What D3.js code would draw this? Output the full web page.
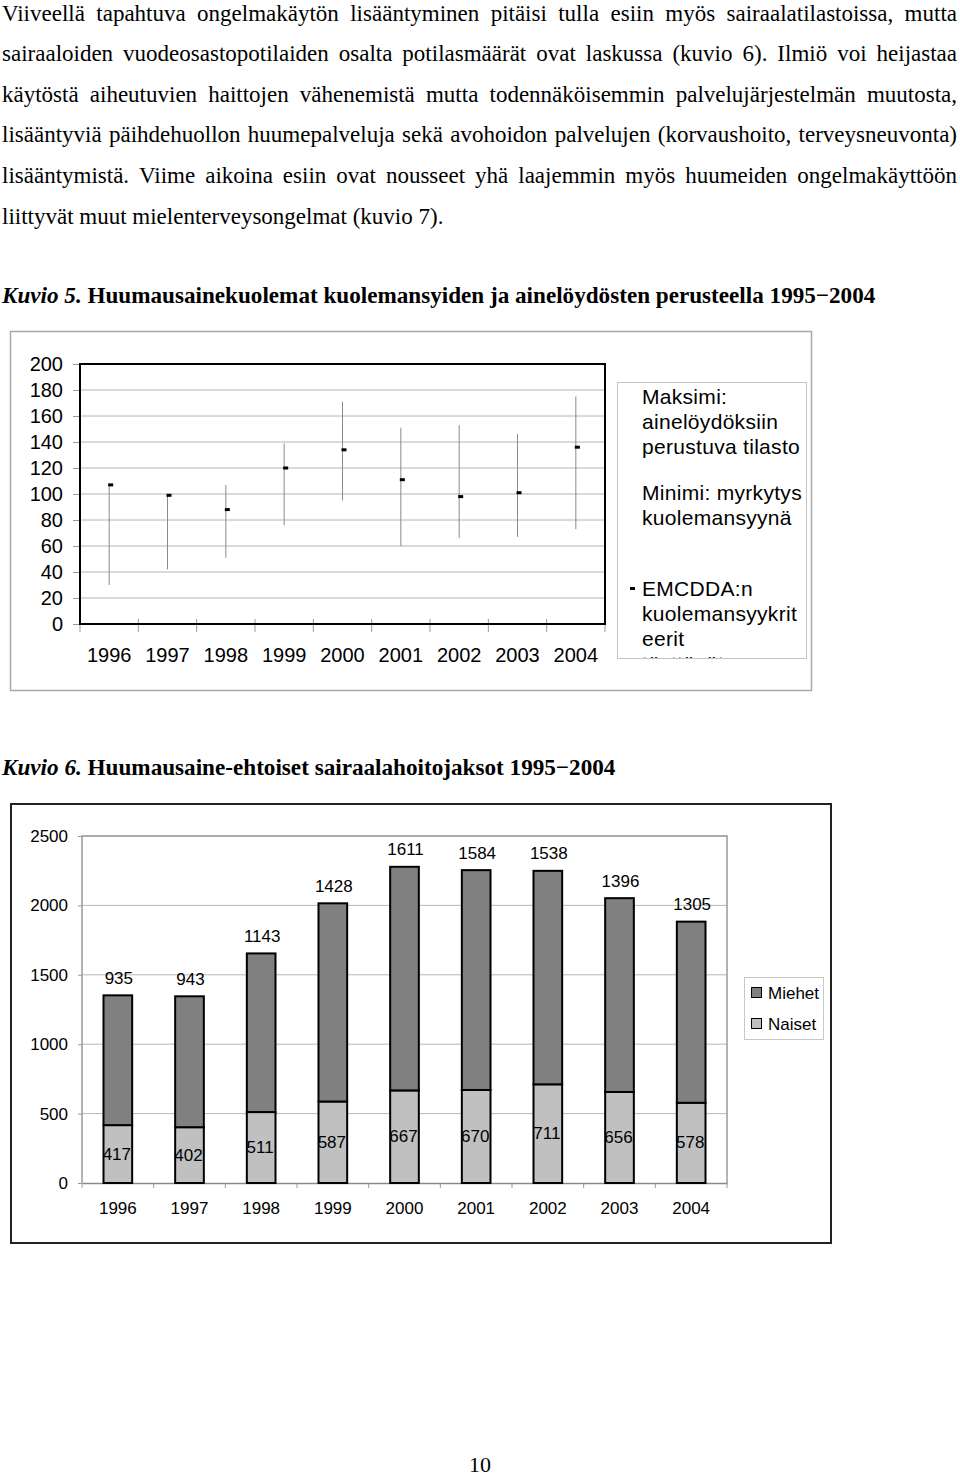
<!DOCTYPE html>
<html>
<head>
<meta charset="utf-8">
<script src="https://cdn.jsdelivr.net/npm/d3@7"></script>
<style>
  html, body { margin: 0; padding: 0; background: #fff; }
  svg { display: block; }
</style>
</head>
<body>
<svg id="page" width="960" height="1482"></svg>
<script>
// ---------------- DATA ----------------
const paragraphLines = [
  "Viiveellä tapahtuva ongelmakäytön lisääntyminen pitäisi tulla esiin myös sairaalatilastoissa, mutta",
  "sairaaloiden vuodeosastopotilaiden osalta potilasmäärät ovat laskussa (kuvio 6). Ilmiö voi heijastaa",
  "käytöstä aiheutuvien haittojen vähenemistä mutta todennäköisemmin palvelujärjestelmän muutosta,",
  "lisääntyviä päihdehuollon huumepalveluja sekä avohoidon palvelujen (korvaushoito, terveysneuvonta)",
  "lisääntymistä. Viime aikoina esiin ovat nousseet yhä laajemmin myös huumeiden ongelmakäyttöön",
  "liittyvät muut mielenterveysongelmat (kuvio 7)."
];
const caption1Lead = "Kuvio 5.";
const caption1Text = " Huumausainekuolemat kuolemansyiden ja ainelöydösten perusteella 1995−2004";
const caption2Lead = "Kuvio 6.";
const caption2Text = " Huumausaine-ehtoiset sairaalahoitojaksot 1995−2004";
const pageNumber = "10";

// Chart 1 (Kuvio 5)
const years = ["1996", "1997", "1998", "1999", "2000", "2001", "2002", "2003", "2004"];
const maxDeaths = [108, 99, 107, 139, 171, 151, 153, 146, 175];   // ainelöydöksiin perustuva tilasto
const minDeaths = [30, 42, 51, 76, 95, 60, 66, 67, 73];           // myrkytys kuolemansyynä
const emcddaDeaths = [107, 99, 88, 120, 134, 111, 98, 101, 136];  // EMCDDA:n kuolemansyykriteerit
const yTicks1 = [0, 20, 40, 60, 80, 100, 120, 140, 160, 180, 200];
const legend1Max = ["Maksimi:", "ainelöydöksiin", "perustuva tilasto"];
const legend1Min = ["Minimi: myrkytys", "kuolemansyynä"];
const legend1Emcdda = ["EMCDDA:n", "kuolemansyykrit", "eerit", "täyttävät"];

// Chart 2 (Kuvio 6)
const men = [935, 943, 1143, 1428, 1611, 1584, 1538, 1396, 1305];
const women = [417, 402, 511, 587, 667, 670, 711, 656, 578];
const yTicks2 = [0, 500, 1000, 1500, 2000, 2500];
const seriesNames = ["Miehet", "Naiset"];

// ---------------- DRAW ----------------
const SERIF = "Liberation Serif, Times New Roman, Times, serif";
const SANS = "Liberation Sans, Arial, Helvetica, sans-serif";
const svg = d3.select("#page");
svg.append("rect").attr("width", 960).attr("height", 1482).attr("fill", "#fff");

// Paragraph (justified by placing words)
const para = svg.append("g").attr("font-family", SERIF).attr("font-size", 23).attr("fill", "#000");
paragraphLines.forEach((line, i) => {
  const y = 20.5 + i * 40.6;
  const t = para.append("text").attr("y", y);
  if (i === paragraphLines.length - 1) {
    t.attr("x", 2).text(line);
    return;
  }
  const words = line.split(" ");
  const spans = words.map(w => t.append("tspan").attr("x", 0).text(w));
  const widths = spans.map(s => s.node().getComputedTextLength());
  const total = d3.sum(widths);
  const x0 = 2, x1 = 957;
  const gap = (x1 - x0 - total) / (words.length - 1);
  let x = x0;
  spans.forEach((s, k) => { s.attr("x", x); x += widths[k] + gap; });
});

function caption(y, lead, rest, width) {
  const t = svg.append("text").attr("font-family", SERIF)
    .attr("x", 2).attr("y", y).attr("font-size", 22).attr("font-weight", "bold").attr("fill", "#000");
  t.append("tspan").attr("font-style", "italic").text(lead);
  t.append("tspan").text(rest);
  const w = t.node().getComputedTextLength();
  t.attr("font-size", 22 * width / w);
}
caption(303, caption1Lead, caption1Text, 874);
caption(775, caption2Lead, caption2Text, 614);

svg.append("text").attr("font-family", SERIF)
  .attr("x", 480).attr("y", 1472).attr("text-anchor", "middle")
  .attr("font-size", 22).attr("fill", "#000").text(pageNumber);

// ---------------- CHART 1 ----------------
const c1 = svg.append("g").attr("font-family", SANS);
c1.append("rect").attr("x", 10.5).attr("y", 331.5).attr("width", 801).attr("height", 359)
  .attr("fill", "#fff").attr("stroke", "#a8a8a8").attr("stroke-width", 1.5);

const p1 = { left: 80, right: 605, top: 364, bottom: 624 };
const x1 = d3.scaleBand().domain(years).range([p1.left, p1.right]);
const y1 = d3.scaleLinear().domain([0, 200]).range([p1.bottom, p1.top]);

// gridlines
c1.append("g").selectAll("line").data(yTicks1.filter(d => d > 0 && d < 200)).join("line")
  .attr("x1", p1.left).attr("x2", p1.right)
  .attr("y1", d => y1(d)).attr("y2", d => y1(d))
  .attr("stroke", "#b4b4b4").attr("stroke-width", 1);

// y axis
const ya1 = c1.append("g").attr("transform", `translate(${p1.left},0)`)
  .call(d3.axisLeft(y1).tickValues(yTicks1).tickFormat(d3.format("d")).tickSize(7).tickPadding(10));
ya1.select(".domain").remove();
ya1.selectAll(".tick line").attr("stroke", "#999");
ya1.selectAll(".tick text").attr("font-size", 20).attr("font-family", SANS).attr("fill", "#000");

// x axis labels
const xa1 = c1.append("g").attr("transform", `translate(0,${p1.bottom})`)
  .call(d3.axisBottom(x1).tickSize(0).tickPadding(24));
xa1.select(".domain").remove();
xa1.selectAll(".tick text").attr("font-size", 20).attr("font-family", SANS).attr("fill", "#000");

// x tick marks at category boundaries
const bounds1 = years.map(d => x1(d)).concat([x1(years[years.length - 1]) + x1.step()]);
c1.append("g").selectAll("line").data(bounds1).join("line")
  .attr("x1", d => d).attr("x2", d => d)
  .attr("y1", p1.bottom - 5).attr("y2", p1.bottom + 8)
  .attr("stroke", "#999").attr("stroke-width", 1);

// plot frame
c1.append("rect").attr("x", p1.left).attr("y", p1.top)
  .attr("width", p1.right - p1.left).attr("height", p1.bottom - p1.top)
  .attr("fill", "none").attr("stroke", "#000").attr("stroke-width", 2);

// high-low lines
const hl = years.map((yr, i) => ({ yr, max: maxDeaths[i], min: minDeaths[i], em: emcddaDeaths[i] }));
c1.append("g").selectAll("line").data(hl).join("line")
  .attr("x1", d => x1(d.yr) + x1.bandwidth() / 2)
  .attr("x2", d => x1(d.yr) + x1.bandwidth() / 2)
  .attr("y1", d => y1(d.max)).attr("y2", d => y1(d.min))
  .attr("stroke", "#8a8a8a").attr("stroke-width", 1);
c1.append("g").selectAll("rect").data(hl).join("rect")
  .attr("x", d => x1(d.yr) + x1.bandwidth() / 2 - 1)
  .attr("y", d => y1(d.em) - 1.5)
  .attr("width", 5).attr("height", 3).attr("fill", "#000");

// legend 1
c1.append("rect").attr("x", 617.5).attr("y", 382.5).attr("width", 189).attr("height", 276)
  .attr("fill", "#fff").attr("stroke", "#c4c4c4").attr("stroke-width", 1);
svg.append("defs").append("clipPath").attr("id", "leg1clip")
  .append("rect").attr("x", 617).attr("y", 382).attr("width", 190).attr("height", 276);
const lg1 = c1.append("g").attr("clip-path", "url(#leg1clip)");
function legLines(lines, y0) {
  lg1.selectAll(null).data(lines).join("text")
    .attr("x", 642).attr("y", (d, i) => y0 + i * 25)
    .attr("dominant-baseline", "central")
    .attr("font-size", 21).attr("letter-spacing", 0.3).attr("fill", "#000")
    .text(d => d);
}
legLines(legend1Max, 396);
legLines(legend1Min, 492);
legLines(legend1Emcdda, 588);
lg1.append("rect").attr("x", 630).attr("y", 587).attr("width", 5).attr("height", 3).attr("fill", "#000");

// ---------------- CHART 2 ----------------
const c2 = svg.append("g").attr("font-family", SANS);
c2.append("rect").attr("x", 11).attr("y", 804).attr("width", 820).attr("height", 439)
  .attr("fill", "#fff").attr("stroke", "#222").attr("stroke-width", 2);

const p2 = { left: 82, right: 727, top: 836, bottom: 1183 };
const x2 = d3.scaleBand().domain(years).range([p2.left, p2.right]).paddingInner(0.6).paddingOuter(0.3);
const x2slots = d3.scaleBand().domain(years).range([p2.left, p2.right]);
const y2 = d3.scaleLinear().domain([0, 2500]).range([p2.bottom, p2.top]);

// gridlines
c2.append("g").selectAll("line").data(yTicks2.filter(d => d > 0)).join("line")
  .attr("x1", p2.left).attr("x2", p2.right)
  .attr("y1", d => y2(d)).attr("y2", d => y2(d))
  .attr("stroke", "#b8b8b8").attr("stroke-width", 1);
// plot frame (grey)
c2.append("path")
  .attr("d", `M${p2.left},${p2.bottom}V${p2.top}H${p2.right}V${p2.bottom}`)
  .attr("fill", "none").attr("stroke", "#9a9a9a").attr("stroke-width", 1.5);

const ya2 = c2.append("g").attr("transform", `translate(${p2.left},0)`)
  .call(d3.axisLeft(y2).tickValues(yTicks2).tickFormat(d3.format("d")).tickSize(4).tickPadding(10));
ya2.select(".domain").remove();
ya2.selectAll(".tick line").attr("stroke", "#999");
ya2.selectAll(".tick text").attr("font-size", 17).attr("font-family", SANS).attr("fill", "#000");

const xa2 = c2.append("g").attr("transform", `translate(0,${p2.bottom})`)
  .call(d3.axisBottom(x2slots).tickSize(0).tickPadding(19));
xa2.select(".domain").attr("stroke", "#8a8a8a").attr("stroke-width", 1.5);
xa2.selectAll(".tick text").attr("font-size", 17).attr("font-family", SANS).attr("fill", "#000");
const bounds2 = years.map(d => x2slots(d)).concat([p2.right]);
c2.append("g").selectAll("line").data(bounds2).join("line")
  .attr("x1", d => d).attr("x2", d => d)
  .attr("y1", p2.bottom).attr("y2", p2.bottom + 5)
  .attr("stroke", "#999").attr("stroke-width", 1);

// stacked bars
const rows = years.map((yr, i) => ({ yr, Naiset: women[i], Miehet: men[i] }));
const stack = d3.stack().keys(["Naiset", "Miehet"])(rows);
const fills = { Miehet: "#808080", Naiset: "#c0c0c0" };
stack.forEach(layer => {
  c2.append("g").selectAll("rect").data(layer).join("rect")
    .attr("x", d => x2(d.data.yr))
    .attr("y", d => y2(d[1]))
    .attr("width", x2.bandwidth())
    .attr("height", d => y2(d[0]) - y2(d[1]))
    .attr("fill", fills[layer.key])
    .attr("stroke", "#000").attr("stroke-width", 2);
});
// labels
const menLayer = stack[1], womenLayer = stack[0];
c2.append("g").selectAll("text").data(menLayer).join("text")
  .attr("x", d => x2(d.data.yr) + x2.bandwidth() / 2 + 1)
  .attr("y", d => y2(d[1]) - 17)
  .attr("text-anchor", "middle").attr("dominant-baseline", "central")
  .attr("font-size", 17).attr("fill", "#000")
  .text(d => d.data.Miehet);
c2.append("g").selectAll("text").data(womenLayer).join("text")
  .attr("x", d => x2(d.data.yr) + x2.bandwidth() / 2 - 1)
  .attr("y", d => (y2(d[0]) + y2(d[1])) / 2)
  .attr("text-anchor", "middle").attr("dominant-baseline", "central")
  .attr("font-size", 17).attr("fill", "#000")
  .text(d => d.data.Naiset);

// legend 2
c2.append("rect").attr("x", 744.5).attr("y", 977.5).attr("width", 79).attr("height", 62)
  .attr("fill", "#fff").attr("stroke", "#c8c8c8").attr("stroke-width", 1);
const lg2 = c2.append("g").selectAll("g").data(seriesNames).join("g")
  .attr("transform", (d, i) => `translate(0,${993 + i * 31})`);
lg2.append("rect").attr("x", 751.5).attr("y", -5.5).attr("width", 10).attr("height", 10)
  .attr("fill", d => fills[d]).attr("stroke", "#000").attr("stroke-width", 1);
lg2.append("text").attr("x", 768).attr("y", 0).attr("dominant-baseline", "central")
  .attr("font-size", 17).attr("fill", "#000").text(d => d);
</script>
</body>
</html>
